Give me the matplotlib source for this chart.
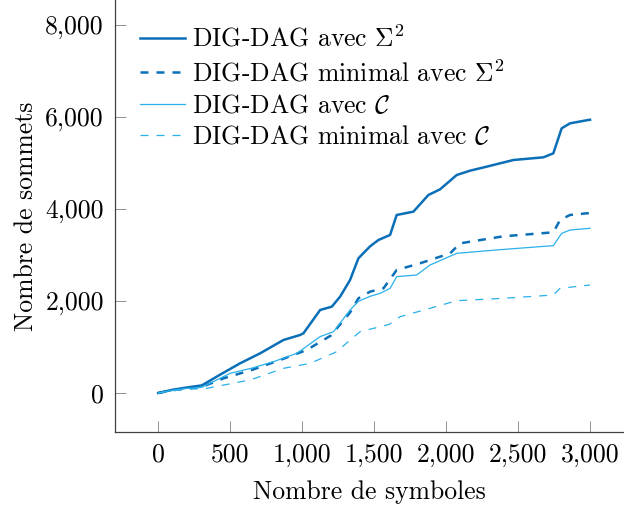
import matplotlib
matplotlib.use("Agg")
import matplotlib.pyplot as plt
from matplotlib.ticker import FuncFormatter

plt.rcParams['font.family'] = 'cmr10'
plt.rcParams['mathtext.fontset'] = 'cm'
plt.rcParams['axes.formatter.use_mathtext'] = True

# DIG-DAG avec Sigma^2
x_sig = [0, 100, 200, 303, 420, 569, 708, 870, 986, 1009, 1125, 1206, 1264, 1333,
         1391, 1472, 1530, 1611, 1657, 1773, 1877, 1958, 2074, 2167, 2282, 2468,
         2676, 2745, 2803, 2861, 2988, 3000]
y_sig = [0, 70, 120, 165, 380, 645, 862, 1152, 1261, 1297, 1804, 1877, 2094, 2457,
         2928, 3188, 3326, 3435, 3870, 3942, 4304, 4427, 4739, 4833, 4920, 5065,
         5123, 5210, 5754, 5862, 5935, 5940]

# DIG-DAG minimal avec Sigma^2
x_min_sig = [0, 100, 200, 303, 454, 650, 847, 1032, 1200, 1333, 1391, 1472, 1565,
             1657, 1819, 2028, 2097, 2398, 2745, 2792, 2861, 2977, 3000]
y_min_sig = [0, 60, 100, 130, 319, 500, 717, 935, 1250, 1750, 2058, 2203, 2275,
             2674, 2819, 3036, 3253, 3406, 3493, 3761, 3870, 3906, 3910]

# DIG-DAG avec C
x_c = [0, 100, 200, 303, 500, 650, 801, 963, 1125, 1218, 1333, 1391, 1472, 1542,
       1611, 1657, 1796, 1889, 2074, 2350, 2745, 2803, 2861, 3000]
y_c = [0, 60, 100, 123, 428, 540, 681, 862, 1225, 1333, 1804, 1993, 2101, 2167,
       2275, 2529, 2565, 2783, 3036, 3109, 3203, 3470, 3543, 3580]

# DIG-DAG minimal avec C
x_min_c = [0, 100, 200, 338, 500, 639, 870, 1056, 1241, 1333, 1403, 1542, 1606,
           1681, 1889, 2074, 2398, 2745, 2792, 3000]
y_min_c = [0, 50, 80, 101, 200, 283, 536, 645, 899, 1152, 1333, 1442, 1493,
           1659, 1841, 2007, 2058, 2130, 2275, 2348]

dark = '#0b6fb8'
light = '#2ab0ea'

fig = plt.figure(figsize=(6.24, 5.11), dpi=100)
ax = fig.add_axes([115 / 624, 79 / 511, 1 - 115 / 624, 1 - 79 / 511])

ax.plot(x_sig, y_sig, color=dark, lw=1.8, label=r'DIG-DAG avec $\Sigma^2$')
ax.plot(x_min_sig, y_min_sig, color=dark, lw=1.8, linestyle=(0, (3.2, 3.2)),
        label=r'DIG-DAG minimal avec $\Sigma^2$')
ax.plot(x_c, y_c, color=light, lw=0.9, label=r'DIG-DAG avec $\mathcal{C}$')
ax.plot(x_min_c, y_min_c, color=light, lw=0.9, linestyle=(0, (6.4, 6.4)),
        label=r'DIG-DAG minimal avec $\mathcal{C}$')

ax.set_xlim(-300, 3236)
ax.set_ylim(-848, 8543)
ax.set_xticks([0, 500, 1000, 1500, 2000, 2500, 3000])
ax.set_yticks([0, 2000, 4000, 6000, 8000])
fmt = FuncFormatter(lambda v, p: '{:,.0f}'.format(v))
ax.xaxis.set_major_formatter(fmt)
ax.yaxis.set_major_formatter(fmt)

ax.spines['top'].set_visible(False)
ax.spines['right'].set_visible(False)
for s in ('left', 'bottom'):
    ax.spines[s].set_color('#404040')
    ax.spines[s].set_linewidth(0.9)
ax.tick_params(direction='in', length=8, width=0.6, color='#808080',
               labelsize=18.5, pad=8)

ax.set_xlabel('Nombre de symboles', fontsize=18.5, labelpad=10)
ax.set_ylabel('Nombre de sommets', fontsize=18.5, labelpad=5)

ax.legend(loc='upper left', bbox_to_anchor=(0.049, 0.941), frameon=False,
          fontsize=18.5, handlelength=1.75, handletextpad=0.27,
          labelspacing=0.3, borderaxespad=0, borderpad=0)

fig.savefig('out.png', dpi=100)
